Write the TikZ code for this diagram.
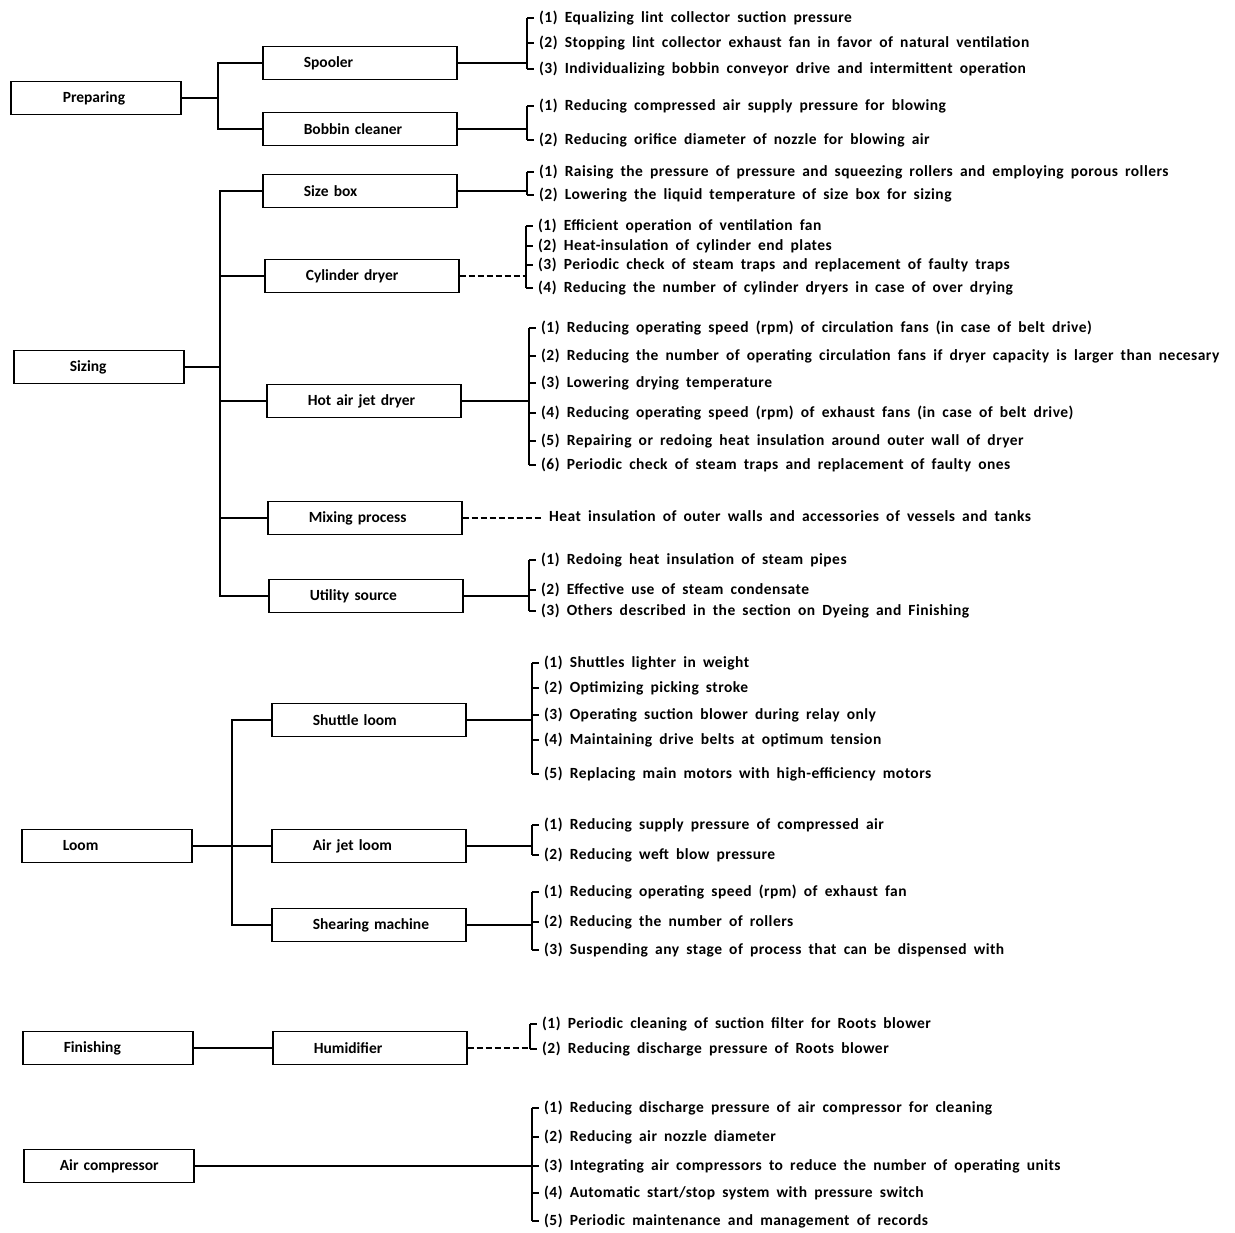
\documentclass[tikz,border=0pt]{standalone}
\usepackage{fontspec}
\setmainfont{Carlito}
\newfontfamily\measurefont{Carlito}[LetterSpace=3, WordSpace=1.8]
\usetikzlibrary{positioning}
\newcommand*\boxht{33pt}
\newcommand*\catwd{170pt}
\newcommand*\unitwd{194pt}
\tikzset{
    boxbase/.style = {draw, line width=1.6pt, minimum height=\boxht,
                      inner xsep=0pt, inner ysep=2pt, align=left, anchor=west,
                      font=\bfseries\fontsize{15.5}{17}\selectfont},
    catbox/.style  = {boxbase, text width=\catwd,
                      execute at begin node={\hspace*{#1}}},
    catbox/.default = 41pt,
    unitbox/.style = {boxbase, text width=\unitwd,
                      execute at begin node={\hspace*{41pt}}},
    measure/.style = {anchor=west, inner sep=0pt,
                      font=\measurefont\bfseries\fontsize{15.5}{17}\selectfont},
    link/.style    = {line width=1.3pt},
    weaklink/.style= {link, dash pattern=on 6pt off 3pt},
    brace/.style   = {line width=1.3pt},
}
% measures next to one bracket: #1 name prefix, #2 bracket x, #3 y/text pairs
\newcommand*\measures[3]{%
  \foreach \y/\txt [count=\k from 1] in {#3} {
    \node[measure] (#1\k) at (#2+12,\y) {\txt};
    \draw[brace] ([xshift=-12pt]#1\k.west) -- ([xshift=-5pt]#1\k.west);
  }%
}
% vertical stroke of a bracket, first to last measure
\newcommand*\bracket[2]{%
  \draw[brace] ([xshift=-12pt]#1.west) -- ([xshift=-12pt]#2.west);%
}

\begin{document}
\begin{tikzpicture}[x=1pt, y=-1pt]
  \useasboundingbox (0,0) rectangle (1235,1233);

  % fields
  \node[catbox=52pt] (prep)    at (10,98)    {Preparing};
  \node[catbox=56pt] (sizing)  at (13,367)   {Sizing};
  \node[catbox]      (loom)    at (21,846)   {Loom};
  \node[catbox]      (finish)  at (22,1048)  {Finishing};
  \node[catbox=36pt] (aircomp) at (23,1166)  {Air compressor};

  % equipment
  \node[unitbox] (spooler) at (262,63)   {Spooler};
  \node[unitbox] (bobbin)  at (262,129)  {Bobbin cleaner};
  \node[unitbox] (sizebox) at (262,191)  {Size box};
  \node[unitbox] (cyldry)  at (264,276)  {Cylinder dryer};
  \node[unitbox] (hotair)  at (266,401)  {Hot air jet dryer};
  \node[unitbox] (mixing)  at (267,518)  {Mixing process};
  \node[unitbox] (utility) at (268,596)  {Utility source};
  \node[unitbox] (shuttle) at (271,720)  {Shuttle loom};
  \node[unitbox] (airjet)  at (271,846)  {Air jet loom};
  \node[unitbox] (shear)   at (271,925)  {Shearing machine};
  \node[unitbox] (humid)   at (272,1048) {Humidifier};

  % trees on the left
  \coordinate (prepjoin) at (218,98);
  \draw[link] (prep.east) -- (prepjoin);
  \draw[link] (spooler.west) -| (prepjoin |- bobbin.west) -- (bobbin.west);

  \coordinate (sizejoin) at (220,367);
  \draw[link] (sizing.east) -- (sizejoin);
  \draw[link] (sizebox.west) -| (sizejoin |- utility.west) -- (utility.west);
  \foreach \u in {cyldry,hotair,mixing}
    \draw[link] (\u.west) -- (\u.west -| sizejoin);

  \coordinate (loomjoin) at (232,846);
  \draw[link] (loom.east) -- (airjet.west);
  \draw[link] (shuttle.west) -| (loomjoin |- shear.west) -- (shear.west);

  \draw[link] (finish.east) -- (humid.west);

  % spooler
  \measures{sp}{527}{18/{(1) Equalizing lint collector suction pressure},
    43/{(2) Stopping lint collector exhaust fan in favor of natural ventilation},
    69/{(3) Individualizing bobbin conveyor drive and intermittent operation}}
  \bracket{sp1}{sp3}
  \draw[link, shorten >=12pt] (spooler.east) -- (spooler.east -| sp1.west);

  % bobbin cleaner
  \measures{bc}{527}{106/{(1) Reducing compressed air supply pressure for blowing},
    140/{(2) Reducing orifice diameter of nozzle for blowing air}}
  \bracket{bc1}{bc2}
  \draw[link, shorten >=12pt] (bobbin.east) -- (bobbin.east -| bc1.west);

  % size box
  \measures{sb}{527}{172/{(1) Raising the pressure of pressure and squeezing rollers and employing porous rollers},
    195/{(2) Lowering the liquid temperature of size box for sizing}}
  \bracket{sb1}{sb2}
  \draw[link, shorten >=12pt] (sizebox.east) -- (sizebox.east -| sb1.west);

  % cylinder dryer
  \measures{cd}{526}{226/{(1) Efficient operation of ventilation fan},
    246/{(2) Heat-insulation of cylinder end plates},
    265/{(3) Periodic check of steam traps and replacement of faulty traps},
    288/{(4) Reducing the number of cylinder dryers in case of over drying}}
  \bracket{cd1}{cd4}
  \draw[weaklink, shorten >=12pt] (cyldry.east) -- (cyldry.east -| cd1.west);

  % hot air jet dryer
  \measures{ha}{529}{328/{(1) Reducing operating speed (rpm) of circulation fans (in case of belt drive)},
    356/{(2) Reducing the number of operating circulation fans if dryer capacity is larger than necesary},
    383/{(3) Lowering drying temperature},
    413/{(4) Reducing operating speed (rpm) of exhaust fans (in case of belt drive)},
    441/{(5) Repairing or redoing heat insulation around outer wall of dryer},
    465/{(6) Periodic check of steam traps and replacement of faulty ones}}
  \bracket{ha1}{ha6}
  \draw[link, shorten >=12pt] (hotair.east) -- (hotair.east -| ha1.west);

  % mixing process
  \node[measure] (mixtxt) at (549,516) {Heat insulation of outer walls and accessories of vessels and tanks};
  \draw[weaklink, shorten >=8pt] (mixing.east) -- (mixing.east -| mixtxt.west);

  % utility source
  \measures{us}{529}{560/{(1) Redoing heat insulation of steam pipes},
    590/{(2) Effective use of steam condensate},
    611/{(3) Others described in the section on Dyeing and Finishing}}
  \bracket{us1}{us3}
  \draw[link, shorten >=12pt] (utility.east) -- (utility.east -| us1.west);

  % shuttle loom
  \measures{sl}{532}{663/{(1) Shuttles lighter in weight},
    688/{(2) Optimizing picking stroke},
    715/{(3) Operating suction blower during relay only},
    740/{(4) Maintaining drive belts at optimum tension},
    774/{(5) Replacing main motors with high-efficiency motors}}
  \bracket{sl1}{sl5}
  \draw[link, shorten >=12pt] (shuttle.east) -- (shuttle.east -| sl1.west);

  % air jet loom
  \measures{aj}{532}{825/{(1) Reducing supply pressure of compressed air},
    855/{(2) Reducing weft blow pressure}}
  \bracket{aj1}{aj2}
  \draw[link, shorten >=12pt] (airjet.east) -- (airjet.east -| aj1.west);

  % shearing machine
  \measures{sm}{532}{892/{(1) Reducing operating speed (rpm) of exhaust fan},
    922/{(2) Reducing the number of rollers},
    950/{(3) Suspending any stage of process that can be dispensed with}}
  \bracket{sm1}{sm3}
  \draw[link, shorten >=12pt] (shear.east) -- (shear.east -| sm1.west);

  % humidifier
  \measures{hu}{530}{1024/{(1) Periodic cleaning of suction filter for Roots blower},
    1049/{(2) Reducing discharge pressure of Roots blower}}
  \bracket{hu1}{hu2}
  \draw[weaklink, shorten >=12pt] (humid.east) -- (humid.east -| hu1.west);

  % air compressor
  \measures{ac}{532}{1108/{(1) Reducing discharge pressure of air compressor for cleaning},
    1137/{(2) Reducing air nozzle diameter},
    1166/{(3) Integrating air compressors to reduce the number of operating units},
    1193/{(4) Automatic start/stop system with pressure switch},
    1221/{(5) Periodic maintenance and management of records}}
  \bracket{ac1}{ac5}
  \draw[link, shorten >=12pt] (aircomp.east) -- (aircomp.east -| ac1.west);
\end{tikzpicture}
\end{document}
